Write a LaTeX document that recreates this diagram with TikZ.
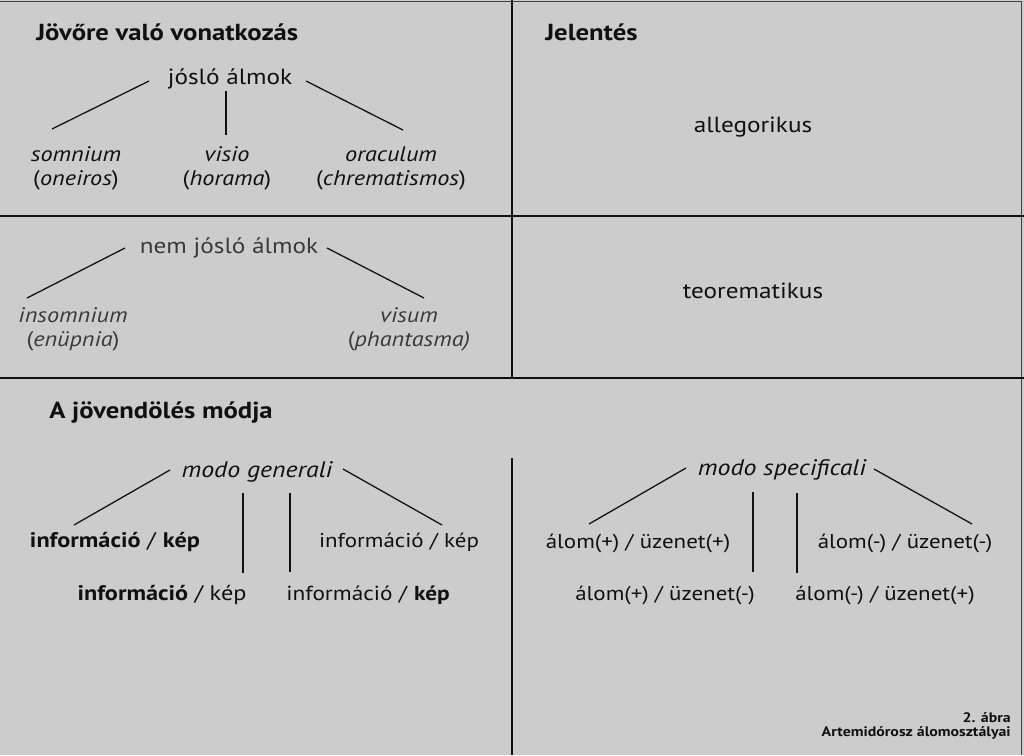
\documentclass[tikz,border=0pt]{standalone}
\usepackage{fontspec}
\setmainfont{PT Sans}[FakeStretch=1.15]
\usetikzlibrary{calc}
\definecolor{papir}{HTML}{CCCCCC}
\definecolor{tinta}{HTML}{101010}
\definecolor{halvany}{HTML}{3A3A3A}

\begin{document}
\begin{tikzpicture}[x=0.025cm,y=-0.025cm,
  cim/.style={font=\fontsize{16.5}{19}\selectfont\bfseries,anchor=base west,inner sep=0pt,text=tinta},
  szo/.style={font=\fontsize{15.6}{18}\selectfont,inner sep=0pt,text=tinta,anchor=base},
  kis/.style={szo,font=\fontsize{14.2}{17}\selectfont},
  modo/.style={szo,font=\fontsize{16}{18}\selectfont\itshape},
  ket/.style={font=\fontsize{15}{17}\selectfont,inner sep=0pt,text=tinta,align=center},
  ag/.style={tinta,line width=0.9pt},
  hatar/.style={tinta,line width=1.6pt}]
  \fill[papir] (0,0) rectangle (1024,755);
  \useasboundingbox (0,0) rectangle (1024,755);
  % keret es valaszfalak
  \draw[tinta!80,line width=0.7pt] (0,1) -- (1021,1) -- (1021,755);
  \draw[hatar] (512,0) -- (512,378);
  \draw[hatar] (0,216) -- (1024,216);
  \draw[hatar] (0,378) -- (1024,378);
  \draw[hatar] (512,458) -- (512,755);

  % felso sav
  \node[cim] (jovo) at (36,41) {Jövőre való vonatkozás};
  \node[cim] (jel) at (545,41) {Jelentés};
  \node[szo] (joslo) at (230,85) {jósló álmok};
  \node[ket] (somn) at (76,168) {\textit{somnium}\\(\textit{oneiros})};
  \node[ket] (visio) at (227,168) {\textit{visio}\\(\textit{horama})};
  \node[ket] (orac) at (391,168) {\textit{oraculum}\\(\textit{chrematismos})};
  \draw[ag] ([shift={(-81,-4)}]joslo.base) -- ([shift={(-24,-39)}]somn.center);
  \draw[ag] ([shift={(-4,6)}]joslo.base) -- ([shift={(-1,-33)}]visio.center);
  \draw[ag] ([shift={(76,-4)}]joslo.base) -- ([shift={(12,-38)}]orac.center);
  \node[szo] (alleg) at (753,133) {allegorikus};

  % kozepso sav
  \node[szo,text=halvany] (nemj) at (229,253) {nem jósló álmok};
  \node[ket,text=halvany] (insom) at (73,329) {\textit{insomnium}\\(\textit{enüpnia})};
  \node[ket,text=halvany] (visum) at (409,329) {\textit{visum}\\(\textit{phantasma)}};
  \draw[ag] ([shift={(-104,-5)}]nemj.base) -- ([shift={(-46,-31)}]insom.center);
  \draw[ag] ([shift={(98,-5)}]nemj.base) -- ([shift={(15,-31)}]visum.center);
  \node[szo] (teor) at (753,298) {teorematikus};

  % also sav
  \node[cim] (modja) at (49,418) {A jövendölés módja};
  \node[modo] (gen) at (257,477) {modo generali};
  \node[szo,font=\fontsize{15}{18}\selectfont] (gen1) at (115,547) {\textbf{információ} / \textbf{kép}};
  \node[szo,font=\fontsize{15}{18}\selectfont] (gen2) at (162,600) {\textbf{információ} / kép};
  \node[kis,font=\fontsize{14.4}{17}\selectfont] (gen3) at (368,600) {információ / \textbf{kép}};
  \node[kis] (gen4) at (399,547) {információ / kép};
  \draw[ag] ([shift={(-87,-7)}]gen.base) -- ([shift={(-41,-22)}]gen1.base);
  \draw[hatar,line width=1.2pt] ([shift={(-14,16)}]gen.base) -- ([shift={(81,-27)}]gen2.base);
  \draw[hatar,line width=1.2pt] ([shift={(33,16)}]gen.base) -- ([shift={(-78,-28)}]gen3.base);
  \draw[ag] ([shift={(86,-8)}]gen.base) -- ([shift={(43,-22)}]gen4.base);

  \node[modo] (spec) at (782,475) {modo specificali};
  \node[kis] (spec1) at (638,548) {álom(+) / üzenet(+)};
  \node[kis] (spec2) at (665,600) {álom(+) / üzenet(-)};
  \node[kis] (spec3) at (885,600) {álom(-) / üzenet(+)};
  \node[kis] (spec4) at (905,548) {álom(-) / üzenet(-)};
  \draw[ag] ([shift={(-96,-7)}]spec.base) -- ([shift={(-49,-24)}]spec1.base);
  \draw[hatar,line width=1.2pt] ([shift={(-29,17)}]spec.base) -- ([shift={(88,-28)}]spec2.base);
  \draw[hatar,line width=1.2pt] ([shift={(15,18)}]spec.base) -- ([shift={(-88,-27)}]spec3.base);
  \draw[ag] ([shift={(92,-6)}]spec.base) -- ([shift={(67,-24)}]spec4.base);

  % abrafelirat
  \node[font=\fontsize{9.8}{11}\selectfont\bfseries,anchor=base east,inner sep=0pt,text=tinta] (abra) at (1011,722) {2. ábra};
  \node[font=\fontsize{9.8}{11}\selectfont\bfseries,anchor=base east,inner sep=0pt,text=tinta] (felirat) at (1011,736) {Artemidórosz álomosztályai};
\end{tikzpicture}
\end{document}
